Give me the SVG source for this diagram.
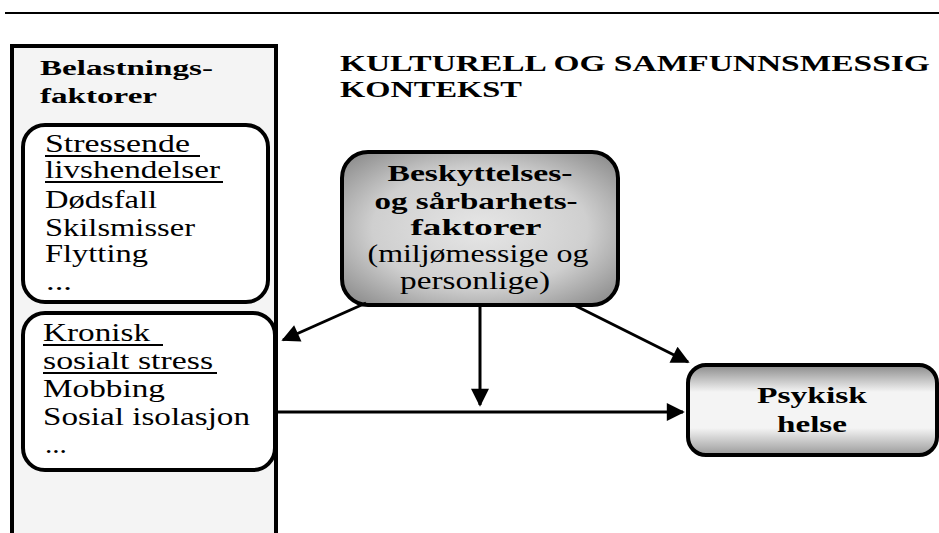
<svg xmlns="http://www.w3.org/2000/svg" width="939" height="533" viewBox="0 0 939 533">
<style>
.t{font-family:"Liberation Serif","Times New Roman",serif;fill:#000}
.b{font-weight:bold}
.r{font-size:25px}
.bx{stroke:#000;stroke-width:4}
.ln{stroke:#000;stroke-width:3;fill:none}
.ul{stroke:#000;stroke-width:2}
</style>
<defs>
<marker id="ah" viewBox="0 0 10 10" refX="9" refY="5" markerWidth="7" markerHeight="6" markerUnits="strokeWidth" orient="auto">
<path d="M0,0 L10,5 L0,10 z" fill="#000"/>
</marker>
<radialGradient id="gMid" cx="0.5" cy="0.5" r="0.65">
<stop offset="0" stop-color="#e6e6e6"/>
<stop offset="0.6" stop-color="#cfcfcf"/>
<stop offset="1" stop-color="#909090"/>
</radialGradient>
<linearGradient id="gPsy" x1="0" y1="0" x2="0" y2="1">
<stop offset="0" stop-color="#8a8a8a"/>
<stop offset="0.3" stop-color="#f4f4f4"/>
<stop offset="0.7" stop-color="#f4f4f4"/>
<stop offset="1" stop-color="#9a9a9a"/>
</linearGradient>
</defs>
<rect width="939" height="533" fill="#fff"/>
<line x1="5" y1="13" x2="939" y2="13" stroke="#000" stroke-width="2"/>

<g id="title">
<g transform="scale(1.3,1)">
<text class="t b" font-size="23" x="261.5" y="71" textLength="453.8" lengthAdjust="spacingAndGlyphs">KULTURELL OG SAMFUNNSMESSIG</text>
<text class="t b" font-size="23" x="261.5" y="97" textLength="140" lengthAdjust="spacingAndGlyphs">KONTEKST</text>
</g>
</g>

<g id="belastning">
<rect x="12" y="46" width="264" height="500" fill="#f4f4f4" class="bx"/>
<g transform="scale(1.3,1)">
<text class="t b" font-size="22" x="30.8" y="75" textLength="133" lengthAdjust="spacingAndGlyphs">Belastnings-</text>
<text class="t b" font-size="22" x="30.8" y="103" textLength="90" lengthAdjust="spacingAndGlyphs">faktorer</text>
</g>
</g>

<g id="stressende">
<rect x="23" y="125" width="245" height="177" rx="22" fill="#fff" class="bx"/>
<line class="ul" x1="45" y1="156" x2="200" y2="156"/>
<line class="ul" x1="45" y1="182" x2="223" y2="182"/>
<g transform="scale(1.3,1)">
<text class="t r" x="34.6" y="152" textLength="111.5" lengthAdjust="spacingAndGlyphs">Stressende</text>
<text class="t r" x="34.6" y="178" textLength="134.6" lengthAdjust="spacingAndGlyphs">livshendelser</text>
<text class="t r" x="34.6" y="208" textLength="86.2" lengthAdjust="spacingAndGlyphs">Dødsfall</text>
<text class="t r" x="34.6" y="236" textLength="115.4" lengthAdjust="spacingAndGlyphs">Skilsmisser</text>
<text class="t r" x="34.6" y="262" textLength="79.2" lengthAdjust="spacingAndGlyphs">Flytting</text>
<text class="t r" x="35.4" y="290" textLength="20" lengthAdjust="spacingAndGlyphs">...</text>
</g>
</g>

<g id="kronisk">
<rect x="23" y="313" width="252" height="157" rx="22" fill="#fff" class="bx"/>
<line class="ul" x1="43" y1="345" x2="163" y2="345"/>
<line class="ul" x1="43" y1="373" x2="217" y2="373"/>
<g transform="scale(1.3,1)">
<text class="t r" x="33.1" y="341" textLength="82.3" lengthAdjust="spacingAndGlyphs">Kronisk</text>
<text class="t r" x="33.1" y="369" textLength="130.8" lengthAdjust="spacingAndGlyphs">sosialt stress</text>
<text class="t r" x="33.1" y="397" textLength="93.8" lengthAdjust="spacingAndGlyphs">Mobbing</text>
<text class="t r" x="33.1" y="425" textLength="159.2" lengthAdjust="spacingAndGlyphs">Sosial isolasjon</text>
<text class="t r" x="34.6" y="453" textLength="16.9" lengthAdjust="spacingAndGlyphs">...</text>
</g>
</g>

<g id="beskyttelse">
<rect x="342" y="152" width="276" height="153" rx="26" fill="url(#gMid)" class="bx"/>
<g transform="scale(1.3,1)">
<text class="t b" font-size="24" x="369.2" y="181" text-anchor="middle" textLength="142.3" lengthAdjust="spacingAndGlyphs">Beskyttelses-</text>
<text class="t b" font-size="24" x="366.2" y="209" text-anchor="middle" textLength="156.2" lengthAdjust="spacingAndGlyphs">og sårbarhets-</text>
<text class="t b" font-size="24" x="366.2" y="235" text-anchor="middle" textLength="100.8" lengthAdjust="spacingAndGlyphs">faktorer</text>
<text class="t r" x="367.7" y="262" text-anchor="middle" textLength="170" lengthAdjust="spacingAndGlyphs">(miljømessige og</text>
<text class="t r" x="365.4" y="289" text-anchor="middle" textLength="115.4" lengthAdjust="spacingAndGlyphs">personlige)</text>
</g>
</g>

<g id="psykisk">
<rect x="688" y="365" width="249" height="90" rx="18" fill="url(#gPsy)" class="bx"/>
<g transform="scale(1.3,1)">
<text class="t b" font-size="24" x="624.6" y="403" text-anchor="middle" textLength="84.6" lengthAdjust="spacingAndGlyphs">Psykisk</text>
<text class="t b" font-size="24" x="624.6" y="432" text-anchor="middle" textLength="53.8" lengthAdjust="spacingAndGlyphs">helse</text>
</g>
</g>

<g id="connectors">
<line class="ln" x1="366" y1="303" x2="283" y2="340" marker-end="url(#ah)"/>
<line class="ln" x1="480" y1="305" x2="480" y2="405" marker-end="url(#ah)"/>
<line class="ln" x1="574" y1="305" x2="688" y2="362" marker-end="url(#ah)"/>
<line class="ln" x1="277" y1="412" x2="683" y2="412" marker-end="url(#ah)"/>
</g>
</svg>
